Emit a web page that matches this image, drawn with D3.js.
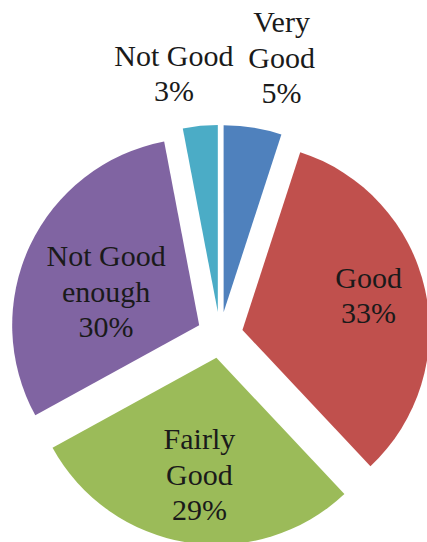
<!DOCTYPE html>
<html>
<head>
<meta charset="utf-8">
<script src="https://cdn.jsdelivr.net/npm/d3@7"></script>
<style>
  html, body { margin: 0; padding: 0; background: #fff; }
  svg { display: block; }
  .lbl { font-family: "Liberation Serif", "DejaVu Serif", "Noto Serif", serif; font-size: 30px; fill: #1a1a1a; }
</style>
</head>
<body>
<script>
// Rating shares, in slice order clockwise from 12 o'clock
const categories = ["Very Good", "Good", "Fairly Good", "Not Good enough", "Not Good"];
const values = [5, 33, 29, 30, 3];
const labelLines = [["Very", "Good"], ["Good"], ["Fairly", "Good"], ["Not Good", "enough"], ["Not Good"]];
const colors = ["#4F81BD", "#C0504D", "#9BBB59", "#8064A2", "#4BACC6"];

// Layout: label distance (fraction of radius) and angular nudge (degrees) per slice
const labelRadius = [1.40, 0.70, 0.63, 0.53, 1.30];
const labelNudge = [3.8, -2.9, -0.7, -5.2, -5.0];

const W = 427, H = 542;
const cx = 220, cy = 335, R = 187, explode = 23;
const lineH = 35.5;

const svg = d3.select("body").append("svg").attr("width", W).attr("height", H);

const pie = d3.pie().sort(null).value(d => d.value).startAngle(0).endAngle(2 * Math.PI);
const arcs = pie(categories.map((c, i) => ({ cat: c, value: values[i], i })));
const arc = d3.arc().innerRadius(0).outerRadius(R);

const g = svg.append("g").attr("transform", `translate(${cx},${cy})`);

const slice = g.selectAll("g.slice").data(arcs).enter().append("g")
  .attr("class", "slice")
  .attr("transform", d => {
    const m = (d.startAngle + d.endAngle) / 2;
    return `translate(${explode * Math.sin(m)},${-explode * Math.cos(m)})`;
  });

slice.append("path")
  .attr("d", arc)
  .attr("fill", d => colors[d.data.i]);

const fmt = d3.format(".0f");

slice.append("text")
  .attr("class", "lbl")
  .attr("text-anchor", "middle")
  .each(function (d) {
    const i = d.data.i;
    const m = (d.startAngle + d.endAngle) / 2 + labelNudge[i] * Math.PI / 180;
    const r = labelRadius[i] * R;
    const x = r * Math.sin(m), y = -r * Math.cos(m);
    const lines = labelLines[i].concat([fmt(d.data.value) + "%"]);
    const n = lines.length;
    d3.select(this).selectAll("tspan").data(lines).enter().append("tspan")
      .attr("x", x)
      .attr("y", (t, k) => y + (k - (n - 1) / 2) * lineH)
      .attr("dominant-baseline", "central")
      .text(t => t);
  });
</script>
</body>
</html>
